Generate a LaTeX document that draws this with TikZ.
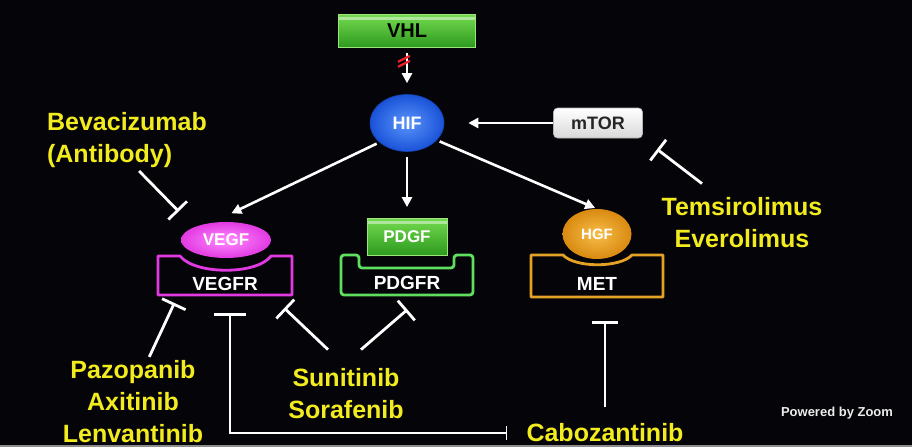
\documentclass[tikz,border=0pt]{standalone}
\usepackage{fontspec}
\setmainfont{Liberation Sans}
\usetikzlibrary{arrows.meta,positioning,shapes.geometric}
\definecolor{slidebg}{HTML}{050409}
\definecolor{drugyellow}{HTML}{F2EC1E}
\definecolor{boxgreenlight}{HTML}{74D94F}
\definecolor{boxgreendark}{HTML}{2C9A1E}
\definecolor{rimgreen}{HTML}{9BE67A}
\definecolor{hifblue}{HTML}{1A52D8}
\definecolor{hifbluelight}{HTML}{5A95FA}
\definecolor{vegfpink}{HTML}{E23AE2}
\definecolor{vegfpinklight}{HTML}{FF8CFF}
\definecolor{hgforange}{HTML}{D98A10}
\definecolor{hgforangelight}{HTML}{F7BE4A}
\definecolor{metorange}{HTML}{E3A126}
\definecolor{pdgfrgreen}{HTML}{5EE05E}
\definecolor{strikered}{HTML}{F0202A}
\definecolor{footgray}{HTML}{8C8C8C}

\begin{document}
\begin{tikzpicture}[
    x=1pt, y=-1pt,
    gene/.style={
        rectangle,
        draw=rimgreen,
        line width=0.8pt,
        top color=boxgreenlight,
        bottom color=boxgreendark,
        path picture={\fill[white, opacity=0.45]
            ([yshift=-2pt]path picture bounding box.north west) rectangle
            ([yshift=-5pt]path picture bounding box.north east);}
    },
    ligand/.style={
        ellipse,
        inner sep=0pt,
        text=white,
        font=\fontsize{17}{20}\selectfont\bfseries
    },
    receptor/.style={
        rectangle,
        minimum width=134pt,
        minimum height=40pt,
        text height=29pt,
        text depth=0pt,
        inner sep=0pt,
        text=white,
        font=\fontsize{19}{22}\selectfont\bfseries
    },
    socket/.style={line width=2.8pt, line join=round},
    drug/.style={
        text=drugyellow,
        align=center,
        inner sep=1pt,
        font=\fontsize{25}{32}\selectfont\bfseries
    },
    strike/.style={strikered, line width=2.2pt},
    arrow/.style={-{Triangle[length=10pt, width=10pt]}, line width=2.6pt, draw=white},
    inhibit/.style={-{Bar[width=26pt]}, line width=2.8pt, draw=white}
]
    \fill[slidebg] (0,0) rectangle (912,447);
    \useasboundingbox (0,0) rectangle (912,447);
    \fill[footgray] (0,445) rectangle (912,447);

    \node[gene, minimum width=137pt, minimum height=33pt, text=black,
        font=\fontsize{20}{22}\selectfont\bfseries] (vhl) at (407,31) {VHL};
    \node[ellipse, minimum width=74pt, minimum height=57pt,
        inner color=hifbluelight, outer color=hifblue,
        draw=hifblue!80!black, line width=0.6pt, text=white,
        font=\fontsize{18}{20}\selectfont\bfseries] (hif) at (407,123) {HIF};
    \node[rectangle, rounded corners=4pt, minimum width=89pt, minimum height=30pt,
        top color=white, bottom color=gray!30, draw=gray!60, line width=0.6pt,
        text=black!85, font=\fontsize{18}{20}\selectfont\bfseries] (mtor) at (598,123) {mTOR};

    \node[receptor] (vegfr) at (225,275.5) {VEGFR};
    \node[receptor, minimum width=132pt] (pdgfr) at (407,275) {PDGFR};
    \node[receptor, minimum width=132pt, minimum height=43pt] (met) at (597,275.5) {MET};

    \draw[socket, vegfpink] (158,256) -- (180,256)
        .. controls (195,275) and (257,275) .. (271,256)
        -- (292,256) -- (292,295) -- (158,295) -- cycle;
    \draw[socket, pdgfrgreen, rounded corners=3pt] (341,255) -- (359,255)
        -- (359,268) -- (454,268) -- (454,255) -- (473,255)
        -- (473,295) -- (341,295) -- cycle;
    \draw[socket, metorange] (531,255) -- (563,255)
        .. controls (575,268) and (620,268) .. (632,255)
        -- (663,255) -- (663,297) -- (531,297) -- cycle;

    \node[ligand, minimum width=90pt, minimum height=36pt,
        inner color=vegfpinklight, outer color=vegfpink] (vegf) at (226,240) {VEGF};
    \node[gene, minimum width=80pt, minimum height=37pt, text=white,
        font=\fontsize{17}{20}\selectfont\bfseries] (pdgf) at (407,237) {PDGF};
    \node[ligand, minimum width=69pt, minimum height=50pt,
        inner color=hgforangelight, outer color=hgforange,
        font=\fontsize{15}{18}\selectfont\bfseries] (hgf) at (597,234) {HGF};

    \node[drug, align=left] (beva) at (127,140) {Bevacizumab\\(Antibody)};
    \node[drug] (pazo) at (133,402) {Pazopanib\\Axitinib\\Lenvantinib};
    \node[drug] (suni) at (346,394) {Sunitinib\\Sorafenib};
    \node[drug] (cabo) at (605,433) {Cabozantinib};
    \node[drug] (temsi) at (742,223) {Temsirolimus\\Everolimus};
    \node[text=gray!15, font=\fontsize{13}{15}\selectfont\bfseries] (zoomtag)
        at (837,413) {Powered by Zoom};

    \draw[arrow, shorten <=5pt, shorten >=11pt] (vhl) -- (hif)
        coordinate[pos=0.3] (cut);
    \draw[strike] ([shift={(-9,0)}]cut) -- ([shift={(3,-6)}]cut);
    \draw[strike] ([shift={(-9,5)}]cut) -- ([shift={(3,-1)}]cut);
    \draw[arrow, shorten >=24pt] (mtor) -- (hif);
    \draw[arrow, shorten <=3pt, shorten >=22pt] (hif.215) -- (vegf.130);
    \draw[arrow, shorten <=5pt, shorten >=11pt] (hif) -- (pdgf);
    \draw[arrow, shorten <=3pt, shorten >=2pt] (hif.-30) -- (hgf.north);

    \draw[inhibit, shorten <=3pt, shorten >=22pt] ([xshift=10pt]beva.south) -- (vegf.north west);
    \draw[inhibit, shorten <=3pt, shorten >=8pt] ([xshift=15pt]pazo.north) -- ([xshift=20pt]vegfr.south west);
    \draw[inhibit, {Bar[width=14pt, line width=1.5pt]}-{Bar[width=32pt]},
        shorten <=18pt, shorten >=17pt] (cabo.west) -| ([xshift=5pt]vegfr.south);
    \draw[inhibit, shorten <=16pt, shorten >=24pt] (cabo.north) -- (cabo.north |- met.south);
    \draw[inhibit, shorten >=18pt] ([xshift=-18pt, yshift=18pt]suni.north) -- ([xshift=-21pt]vegfr.south east);
    \draw[inhibit, shorten >=22pt] ([xshift=15pt, yshift=18pt]suni.north) -- ([xshift=17pt]pdgfr.south);
    \draw[inhibit, shorten >=18pt] ([xshift=-40pt, yshift=13pt]temsi.north) -- (mtor.south east);
\end{tikzpicture}
\end{document}
